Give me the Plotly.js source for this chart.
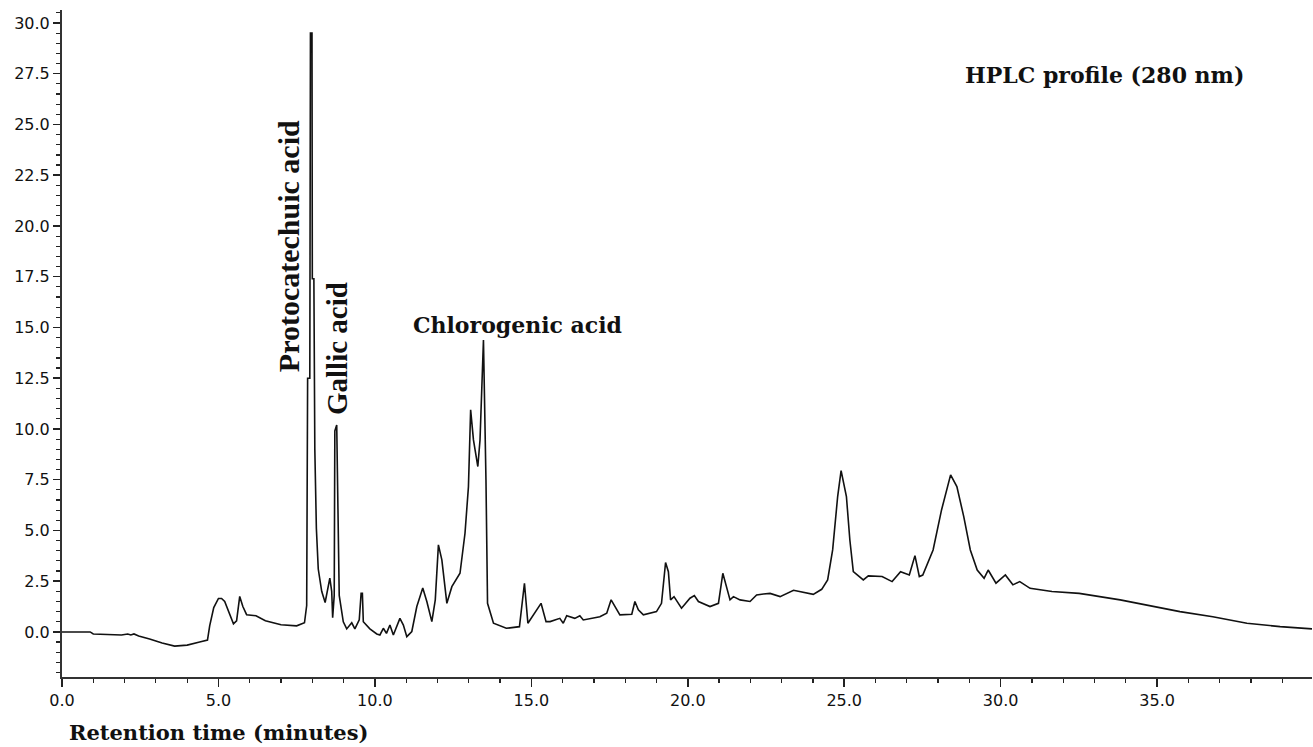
<!DOCTYPE html>
<html>
<head>
<meta charset="utf-8">
<script src="https://cdn.plot.ly/plotly-3.0.1.min.js"></script>
<style>html,body{margin:0;padding:0;background:#fff;}#chart{width:1313px;height:747px;}</style>
</head>
<body>
<div id="chart"></div>
<script>
// Retention time (minutes)
const retentionTime = [
  0.0, 0.9, 1.0, 1.9, 2.1, 2.2, 2.3, 2.45, 2.8, 3.2, 3.6, 4.0, 4.4, 4.65, 4.72, 4.78, 4.85, 5.0, 5.1, 5.2,
  5.35, 5.48, 5.58, 5.68, 5.78, 5.9, 6.2, 6.5, 7.0, 7.5, 7.75, 7.82, 7.85, 7.92, 7.94, 7.99, 8.0, 8.05, 8.08, 8.13,
  8.19, 8.3, 8.41, 8.49, 8.56, 8.62, 8.65, 8.7, 8.72, 8.78, 8.81, 8.86, 8.99, 9.1, 9.26, 9.36, 9.5, 9.56, 9.6, 9.63,
  9.84, 10.06, 10.16, 10.27, 10.37, 10.48, 10.59, 10.7, 10.8, 10.91, 11.02, 11.18, 11.34, 11.53, 11.66, 11.82, 11.93, 12.03, 12.14, 12.3,
  12.46, 12.72, 12.88, 12.99, 13.06, 13.15, 13.29, 13.36, 13.44, 13.47, 13.55, 13.6, 13.79, 14.2, 14.62, 14.78, 14.89, 15.31, 15.47, 15.6,
  15.91, 16.02, 16.13, 16.39, 16.55, 16.66, 17.19, 17.41, 17.55, 17.67, 17.83, 18.21, 18.31, 18.42, 18.58, 19.0, 19.16, 19.29, 19.38, 19.45,
  19.56, 19.8, 20.07, 20.21, 20.34, 20.71, 20.98, 21.12, 21.21, 21.35, 21.46, 21.67, 21.99, 22.2, 22.42, 22.63, 22.95, 23.38, 24.01, 24.28,
  24.47, 24.63, 24.79, 24.9, 25.07, 25.18, 25.29, 25.61, 25.77, 26.21, 26.53, 26.8, 27.08, 27.26, 27.4, 27.51, 27.84, 28.11, 28.4, 28.6,
  28.82, 29.03, 29.25, 29.47, 29.6, 29.85, 30.15, 30.39, 30.61, 30.94, 31.64, 32.51, 33.82, 34.9, 35.73, 36.78, 37.87, 38.93, 39.95
];
// Detector response (absorbance units)
const absorbance = [
  0.0, 0.0, -0.1, -0.15, -0.1, -0.15, -0.1, -0.2, -0.35, -0.55, -0.7, -0.65, -0.5, -0.4, 0.3, 0.8, 1.2, 1.65, 1.65, 1.5,
  0.95, 0.4, 0.55, 1.75, 1.25, 0.85, 0.8, 0.55, 0.35, 0.3, 0.45, 1.3, 12.5, 12.5, 29.5, 29.5, 17.4, 17.4, 9.0, 5.1,
  3.1, 2.0, 1.45, 2.0, 2.65, 2.0, 0.7, 1.8, 9.9, 10.2, 5.7, 1.8, 0.5, 0.15, 0.45, 0.15, 0.6, 1.9, 1.9, 0.5,
  0.15, -0.1, -0.15, 0.18, -0.07, 0.34, -0.15, 0.26, 0.67, 0.34, -0.23, 0.02, 1.25, 2.16, 1.5, 0.51, 1.58, 4.29, 3.55, 1.41,
  2.23, 2.89, 4.86, 7.16, 10.94, 9.46, 8.15, 9.46, 13.07, 14.38, 7.49, 1.41, 0.43, 0.18, 0.26, 2.4, 0.43, 1.41, 0.51, 0.51,
  0.67, 0.43, 0.8, 0.67, 0.8, 0.59, 0.75, 0.92, 1.58, 1.25, 0.84, 0.87, 1.5, 1.09, 0.84, 1.0, 1.41, 3.42, 2.97, 1.58,
  1.74, 1.17, 1.66, 1.79, 1.5, 1.25, 1.41, 2.89, 2.4, 1.58, 1.74, 1.58, 1.5, 1.82, 1.87, 1.9, 1.74, 2.05, 1.85, 2.1,
  2.56, 4.04, 6.67, 7.95, 6.67, 4.53, 2.97, 2.56, 2.76, 2.73, 2.48, 2.97, 2.81, 3.76, 2.73, 2.8, 4.04, 6.01, 7.74, 7.16,
  5.68, 4.04, 3.05, 2.64, 3.05, 2.4, 2.81, 2.32, 2.48, 2.15, 1.99, 1.9, 1.58, 1.25, 1.0, 0.75, 0.43, 0.26, 0.15
];
// Peak labels
const peakNames = ["Protocatechuic acid", "Gallic acid", "Chlorogenic acid"];
const chartTitle = "HPLC profile (280 nm)";
const xTitle = "Retention time (minutes)";

const serifBold = "'DejaVu Serif', 'Liberation Serif', serif";
const timesBold = "'Liberation Serif', 'Times New Roman', serif";
const tickFont = {family: "'DejaVu Sans', 'Liberation Sans', Arial, sans-serif", size: 16, color: '#111'};

const trace = {
  x: retentionTime,
  y: absorbance,
  type: 'scatter',
  mode: 'lines',
  line: {color: '#111', width: 1.6},
  hoverinfo: 'x+y'
};

const layout = {
  width: 1313,
  height: 747,
  margin: {l: 62, r: 1, t: 10, b: 70},
  paper_bgcolor: '#ffffff',
  plot_bgcolor: '#ffffff',
  showlegend: false,
  xaxis: {
    range: [0, 39.95],
    tick0: 0, dtick: 5, tickformat: '.1f',
    ticks: 'outside', ticklen: 8, tickwidth: 1.5, tickcolor: '#222',
    minor: {dtick: 1, ticks: 'outside', ticklen: 4, tickwidth: 1.2, tickcolor: '#222', showgrid: false},
    showline: true, linecolor: '#333', linewidth: 2,
    showgrid: false, zeroline: false,
    tickfont: tickFont
  },
  yaxis: {
    range: [-2.22, 30.64],
    tick0: 0, dtick: 2.5, tickformat: '.1f',
    ticks: 'outside', ticklen: 7, tickwidth: 1.5, tickcolor: '#222',
    minor: {dtick: 0.5, ticks: 'outside', ticklen: 4, tickwidth: 1.2, tickcolor: '#222', showgrid: false},
    showline: true, linecolor: '#333', linewidth: 2,
    showgrid: false, zeroline: false,
    tickfont: tickFont
  },
  annotations: [
    {text: chartTitle, xref: 'x', yref: 'y', x: 33.33, y: 27.44, showarrow: false,
     xanchor: 'center', yanchor: 'middle', font: {family: serifBold, size: 22, color: '#111', weight: 'bold'}},
    {text: peakNames[2], xref: 'x', yref: 'y', x: 14.57, y: 15.12, showarrow: false,
     xanchor: 'center', yanchor: 'middle', font: {family: serifBold, size: 22, color: '#111', weight: 'bold'}},
    {text: peakNames[0], xref: 'x', yref: 'y', x: 7.22, y: 19.0, showarrow: false, textangle: -90,
     xanchor: 'center', yanchor: 'middle', font: {family: timesBold, size: 30, color: '#111', weight: 'bold'}},
    {text: peakNames[1], xref: 'x', yref: 'y', x: 8.79, y: 13.94, showarrow: false, textangle: -90,
     xanchor: 'center', yanchor: 'middle', font: {family: timesBold, size: 29, color: '#111', weight: 'bold'}},
    {text: xTitle, xref: 'paper', yref: 'paper', x: 0, y: -0.0825, xshift: 5, showarrow: false,
     xanchor: 'left', yanchor: 'middle', font: {family: serifBold, size: 21, color: '#111', weight: 'bold'}}
  ]
};

Plotly.newPlot('chart', [trace], layout, {displayModeBar: false, staticPlot: true});
</script>
</body>
</html>
